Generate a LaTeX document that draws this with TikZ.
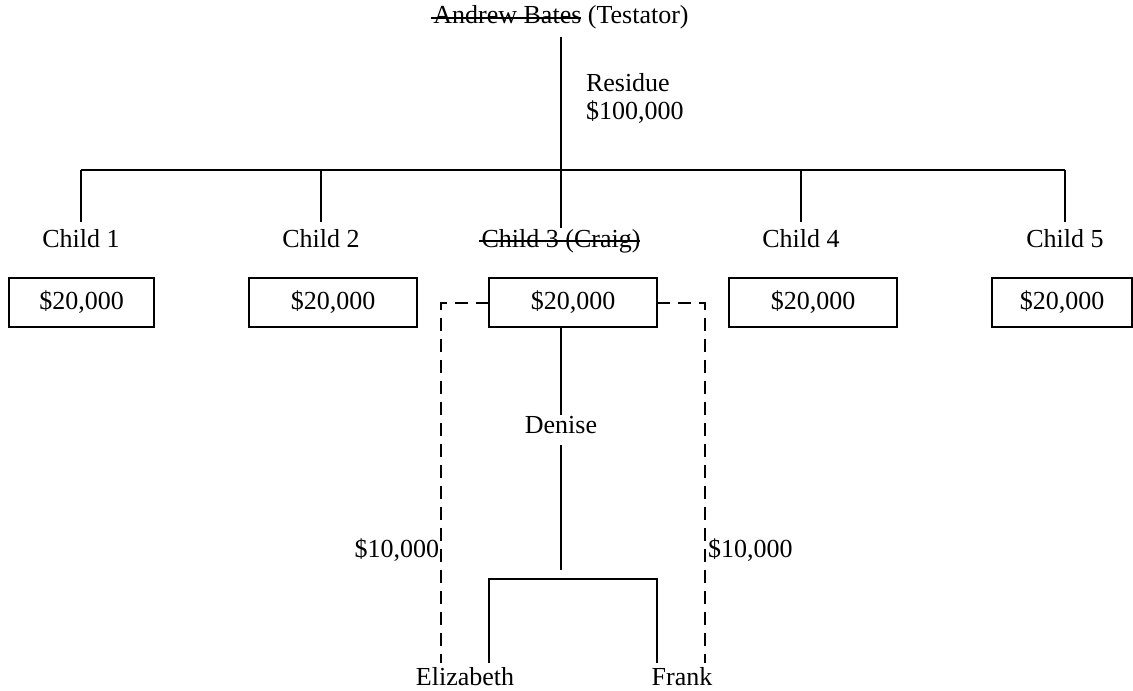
\documentclass[tikz,border=0pt]{standalone}
\usepackage{fontspec}
\setmainfont{Liberation Serif}
\usepackage{tikz}
\usetikzlibrary{positioning, calc}
\newsavebox{\struckbox}
\newcommand{\struck}[1]{\sbox{\struckbox}{#1}\rlap{\kern-0.1em\rule[0.2em]{\dimexpr\wd\struckbox+0.1em\relax}{1pt}}\usebox{\struckbox}}

\begin{document}
\begin{tikzpicture}[x=0.5pt,y=-0.5pt,line width=1pt,font=\fontsize{13}{14}\selectfont,heir/.style={inner sep=3pt,anchor=base},share/.style={draw,rectangle,outer sep=0pt,inner sep=0pt,minimum height=24.2pt,minimum width=84pt},lapse/.style={dash pattern=on 6.5pt off 4pt}]
  \useasboundingbox (0,0) rectangle (1133,690);
  \node[heir] (testator) at (561,24) {\struck{Andrew Bates} (Testator)};
  \coordinate (bar) at (561,170);
  \node[inner sep=0pt,anchor=north west,align=left] (residue) at (585,72) {Residue\\\$100,000};
  \node[heir] (c1) at (81,247) {Child 1};
  \node[heir] (c2) at (321,247) {Child 2};
  \node[heir,inner sep=0pt] (c3) at (561,247) {\struck{Child 3 (Craig)}};
  \node[heir] (c4) at (801,247) {Child 4};
  \node[heir] (c5) at (1065,247) {Child 5};
  \node[share,minimum width=72.5pt] (b1) at (81.5,302.5) {\$20,000};
  \node[share,right=47.5pt of b1] (b2) {\$20,000};
  \node[share,right=36pt of b2] (b3) {\$20,000};
  \node[share,right=36pt of b3] (b4) {\$20,000};
  \node[share,minimum width=70pt,right=47.5pt of b4] (b5) {\$20,000};
  \node[inner sep=0pt,anchor=base] (denise) at (561,433) {Denise};
  \coordinate (stem) at (561,570);
  \coordinate (fork) at (561,579);
  \node[heir,inner sep=1.5pt] (eliz) at (465,685) {Elizabeth};
  \node[heir,inner sep=1.5pt] (frank) at (682,685) {Frank};
  \coordinate (ldash) at (441,663);
  \coordinate (rdash) at (705,663);
  \node[inner sep=0pt,anchor=base east] (lshare) at (440,557) {\$10,000};
  \node[inner sep=0pt,anchor=base west] (rshare) at (707,557) {\$10,000};
  \draw (testator) -- (bar);
  \draw (c1.north |- bar) -- (c5.north |- bar);
  \foreach \i in {1,...,5} \draw (c\i.north) -- (c\i.north |- bar);
  \draw (b3.south -| denise) -- (denise);
  \draw ([yshift=-6pt]denise.base) -- (stem);
  \draw (b3.west |- eliz.north) |- (fork) -| (b3.east |- frank.north);
  \draw[lapse] (b3.west) -| (ldash);
  \draw[lapse] (b3.east) -| (rdash);
\end{tikzpicture}
\end{document}
